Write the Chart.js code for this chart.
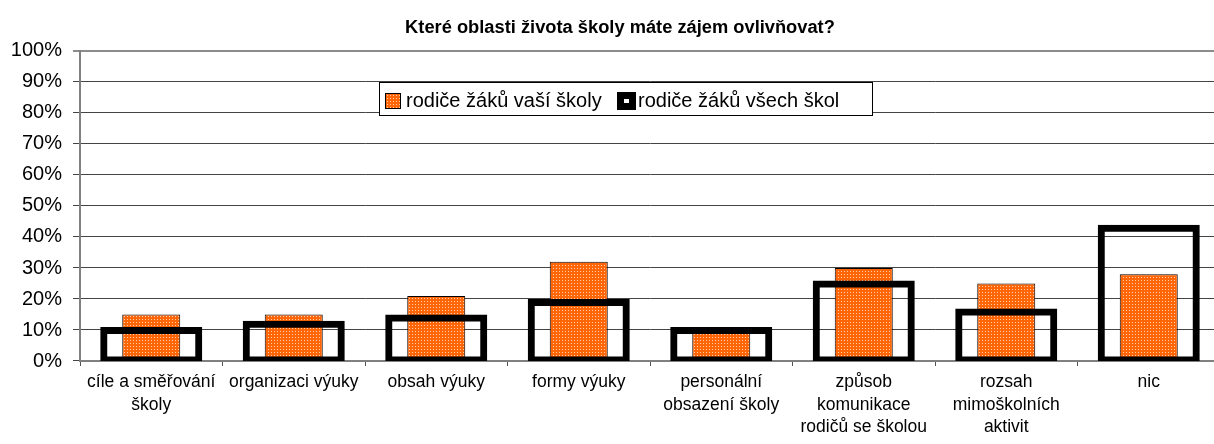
<!DOCTYPE html>
<html>
<head>
<meta charset="utf-8">
<script src="https://cdn.jsdelivr.net/npm/chart.js@4.4.0/dist/chart.umd.min.js"></script>
<style>
  body { margin: 0; overflow: hidden; background: #fff; font-family: "Liberation Sans", Arial, sans-serif; }
  .wrap { position: relative; width: 1240px; height: 444px; }
  .legend { position: absolute; left: 379px; top: 82px; width: 492px; height: 32px; border: 1px solid #000; background: #fff; font-size: 20px; line-height: 34px; color: #000; }
  .legend span { position: absolute; top: 0; white-space: nowrap; }
  .legend .sw { position: absolute; box-sizing: border-box; }
</style>
</head>
<body>
<div class="wrap">
  <canvas id="chart"></canvas>
  <div class="legend" id="legend"></div>
</div>
<script>
const title = "Které oblasti života školy máte zájem ovlivňovat?";
const categories = [
  ["cíle a směřování", "školy"],
  ["organizaci výuky"],
  ["obsah výuky"],
  ["formy výuky"],
  ["personální", "obsazení školy"],
  ["způsob", "komunikace", "rodičů se školou"],
  ["rozsah", "mimoškolních", "aktivit"],
  ["nic"],
];
const seriesNames = ["rodiče žáků vaší školy", "rodiče žáků všech škol"];
const vasiSkoly = [15, 15, 21, 32, 10, 30, 25, 28];
const vsechSkol = [10, 12, 14, 19, 10, 25, 16, 43];
const yTicks = [0, 10, 20, 30, 40, 50, 60, 70, 80, 90, 100];

// dotted orange fill like the old excel pattern
const tile = document.createElement("canvas");
tile.width = 3;
tile.height = 3;
const tctx = tile.getContext("2d");
tctx.fillStyle = "#ff6608";
tctx.fillRect(0, 0, 3, 3);
tctx.fillStyle = "#ffcfaa";
tctx.fillRect(1, 1, 1, 1);
const ctx = document.getElementById("chart");
const orangeFill = ctx.getContext("2d").createPattern(tile, "repeat");

// excel centred the title on the whole (cropped) chart, not only up to the plot edge
const titleShift = {
  id: "titleShift",
  afterLayout(chart) {
    if (chart.titleBlock) chart.titleBlock.right = chart.width;
  },
};

const chart = new Chart(ctx, {
  type: "bar",
  data: {
    labels: categories,
    datasets: [
      {
        label: seriesNames[0],
        data: vasiSkoly,
        backgroundColor: orangeFill,
        borderColor: "#000",
        borderWidth: 1,
        borderSkipped: false,
        inflateAmount: 0,
        barPercentage: 0.407,
        categoryPercentage: 1,
        order: 2,
      },
      {
        label: seriesNames[1],
        data: vsechSkol,
        backgroundColor: "rgba(0,0,0,0)",
        borderColor: "#000",
        borderWidth: 1,
        borderSkipped: false,
        inflateAmount: 3,
        clip: 0,
        barPercentage: 0.674,
        categoryPercentage: 1,
        order: 1,
      },
    ],
  },
  plugins: [titleShift],
  options: {
    responsive: true,
    maintainAspectRatio: false,
    animation: false,
    grouped: false,
    layout: { padding: { left: 0, right: 20, top: 0, bottom: 0 } },
    plugins: {
      legend: { display: false },
      tooltip: { enabled: false },
      title: {
        display: true,
        text: title,
        color: "#000",
        font: { family: "Liberation Sans", size: 18.3, weight: "bold", lineHeight: 1.2 },
        padding: { top: 17, bottom: 12 },
      },
    },
    scales: {
      x: {
        afterFit: (s) => { s.height = 83; },
        grid: { offset: true, drawOnChartArea: false, tickLength: 5, color: "#555" },
        border: { color: "#808080", width: 2 },
        ticks: {
          color: "#000",
          maxRotation: 0,
          autoSkip: false,
          padding: 5,
          font: { family: "Liberation Sans", size: 17.5, lineHeight: 1.29 },
        },
      },
      y: {
        min: 0,
        max: 100,
        afterFit: (s) => { s.width = 80; },
        afterBuildTicks: (s) => { s.ticks = yTicks.map((v) => ({ value: v })); },
        grid: {
          tickLength: 7,
          color: (c) => (c.tick && c.tick.value === 100 ? "#8c8c8c" : "#444"),
          lineWidth: (c) => (c.tick && c.tick.value === 100 ? 2 : 1),
        },
        border: { color: "#808080", width: 2 },
        ticks: {
          color: "#000",
          padding: 11,
          font: { family: "Liberation Sans", size: 20 },
          callback: (v) => v + "%",
        },
      },
    },
  },
});

// legend box like in the excel original
const legend = document.getElementById("legend");
const sw1 = document.createElement("div");
sw1.className = "sw";
sw1.style.cssText = "left:5px;top:10px;width:16px;height:16px;border:1px solid #000;background-image:url(" + tile.toDataURL() + ");";
const t1 = document.createElement("span");
t1.style.left = "26px";
t1.textContent = chart.data.datasets[0].label;
const sw2 = document.createElement("div");
sw2.className = "sw";
sw2.style.cssText = "left:237px;top:9px;width:19px;height:18px;border:7px solid #000;background:#fff;";
const t2 = document.createElement("span");
t2.style.left = "258px";
t2.textContent = chart.data.datasets[1].label;
legend.append(sw1, t1, sw2, t2);
</script>
</body>
</html>
